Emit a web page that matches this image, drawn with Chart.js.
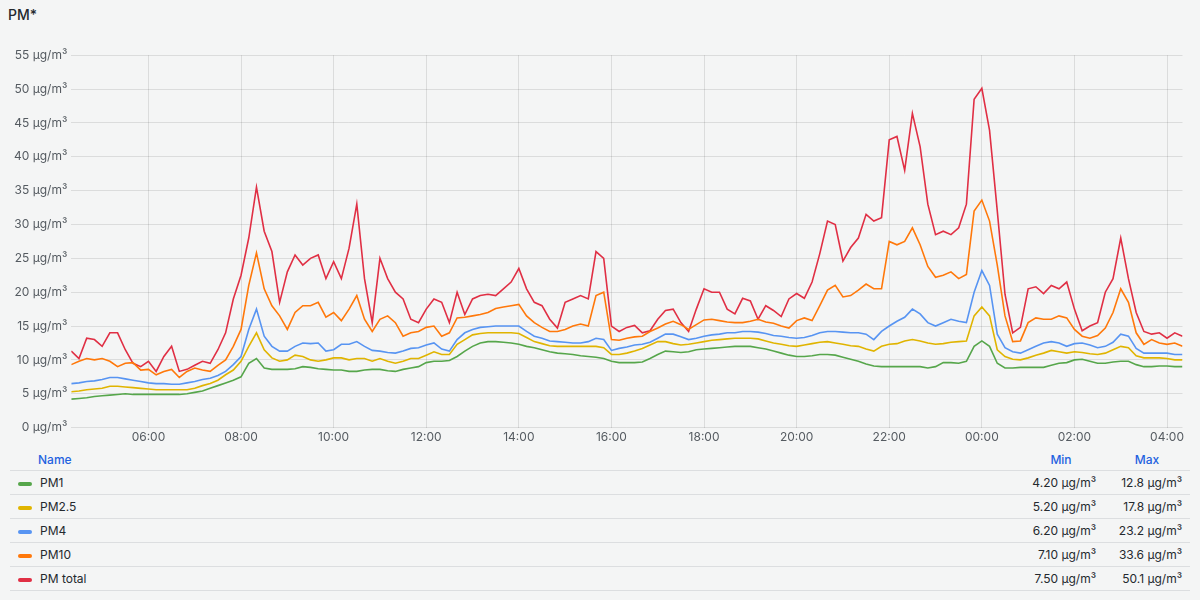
<!DOCTYPE html>
<html>
<head>
<meta charset="utf-8">
<script src="https://cdn.jsdelivr.net/npm/chart.js@4"></script>
<style>
  body { margin: 0; width: 1200px; height: 600px; background: #f4f5f5; font-family: Inter, "Noto Sans", sans-serif; color: #24292e; overflow: hidden; }
  #title { position: absolute; left: 8px; top: 6px; font-size: 14px; font-weight: 500; }
  #wrap { position: absolute; left: 10px; top: 44px; width: 1177px; height: 404px; }
  #legend { position: absolute; left: 10px; top: 448px; width: 1180px; font-size: 12px; border-collapse: collapse; }
  #legend th { color: #1f62e0; font-weight: 500; height: 22px; text-align: center; padding: 0 8px; }
  #legend th:first-child { text-align: left; padding-left: 28px; }
  #legend td { height: 23px; border-top: 1px solid #dcdee0; text-align: right; padding: 0 8px; }
  #legend td:first-child { text-align: left; }
  #legend tr:last-child td { border-bottom: 1px solid #dcdee0; }
  .sw { display: inline-block; width: 14px; height: 4px; border-radius: 2px; vertical-align: middle; margin: 0 8px 0 0; }
</style>
</head>
<body>
<div id="title">PM*</div>
<div id="wrap"><canvas id="c"></canvas></div>
<table id="legend"><thead><tr><th>Name</th><th style="width:70px">Min</th><th style="width:70px">Max</th></tr></thead><tbody id="rows"></tbody></table>
<script>
// start 04:20, one point every 10 minutes (minutes since midnight of first day)
const startMinute = 260;
const stepMinutes = 10;
const seriesNames = ["PM1", "PM2.5", "PM4", "PM10", "PM total"];
const seriesColors = ["#56a64b", "#e0b400", "#5794f2", "#ff780a", "#e02f44"];
const minLabels = ["4.20 µg/m³", "5.20 µg/m³", "6.20 µg/m³", "7.10 µg/m³", "7.50 µg/m³"];
const maxLabels = ["12.8 µg/m³", "17.8 µg/m³", "23.2 µg/m³", "33.6 µg/m³", "50.1 µg/m³"];
const xTicks = [360, 480, 600, 720, 840, 960, 1080, 1200, 1320, 1440, 1560, 1680];

const pm1 = [4.2,4.3,4.4,4.6,4.7,4.8,4.9,5,4.9,4.9,4.9,4.9,4.9,4.9,4.9,5,5.2,5.4,5.8,6.2,6.6,7,7.5,9.5,10.2,8.8,8.6,8.6,8.6,8.7,9,8.9,8.7,8.6,8.5,8.5,8.3,8.3,8.5,8.6,8.6,8.4,8.3,8.6,8.8,9,9.6,9.8,9.8,9.9,10.5,11.3,12,12.5,12.7,12.7,12.6,12.5,12.3,12,11.8,11.5,11.2,11,10.9,10.8,10.6,10.5,10.4,10.2,9.8,9.6,9.6,9.6,9.7,10.2,10.8,11.3,11.2,11.1,11.2,11.5,11.6,11.7,11.8,11.9,12,12,12,11.8,11.6,11.3,11,10.7,10.5,10.5,10.6,10.8,10.8,10.7,10.4,10.1,9.8,9.4,9.1,9,9,9,9,9,9,8.8,9,9.6,9.6,9.5,9.8,12,12.8,12,9.5,8.8,8.8,8.9,8.9,8.9,8.9,9.2,9.5,9.6,10,10.1,9.8,9.5,9.5,9.7,9.8,9.8,9.3,9,9,9.1,9.1,9,9];
const pm25 = [5.3,5.4,5.6,5.7,5.8,6.1,6.1,6,5.9,5.8,5.7,5.6,5.6,5.6,5.6,5.6,5.8,6.2,6.5,7,7.8,8.5,9.8,12,14,11.5,10.3,9.8,10,10.7,10.5,10,9.8,10,10.3,10.3,10,10.2,10.2,9.8,10.2,9.8,9.5,9.8,10.2,10.2,10.7,11.2,10.8,10.8,12.3,13,13.7,13.9,14,14,14,14,13.9,13.3,12.7,12.4,12.1,12,12,12,12,12,12,11.8,10.8,10.8,11,11.3,11.7,12.2,12.7,12.7,12.4,12.2,12.3,12.5,12.7,12.9,13,13.1,13.2,13.2,13.2,13.1,12.8,12.5,12.3,12.1,12,12.2,12.4,12.6,12.7,12.5,12.3,12.1,12,11.6,11.3,12,12.3,12.4,12.8,13,12.8,12.5,12.3,12.4,12.6,12.7,12.8,16.5,17.8,16.5,11.5,10.5,10.1,10,10.3,10.7,11,11.4,11.2,11,11.2,11.1,10.9,10.8,11,11.5,12,11.8,10.6,10.3,10.3,10.3,10.2,10,10];
const pm4 = [6.5,6.6,6.8,6.9,7.1,7.4,7.4,7.2,7,6.8,6.6,6.5,6.5,6.4,6.4,6.6,6.8,7.1,7.3,7.7,8.3,9.3,10.5,14.5,17.5,13.5,12,11.3,11.3,12,12.5,12.4,12.5,11.3,11.5,12.3,12.3,12.7,12,11.4,11.3,11.1,11,11.3,11.7,11.8,12.2,12.5,11.6,11.3,13,14,14.5,14.8,14.9,15,15,15,15,14.2,13.5,13.2,12.8,12.7,12.6,12.5,12.5,12.7,13.2,13,11.4,11.7,11.9,12.2,12.3,12.6,13.2,13.8,13.8,13.4,13,13.2,13.5,13.7,13.8,14,14,14.2,14.2,14.1,13.9,13.6,13.5,13.3,13.2,13.3,13.6,14,14.2,14.2,14.1,14,14,13.8,13,14.2,15,15.7,16.3,17.5,16.8,15.5,15,15.5,16,15.7,15.5,20,23.2,21,13.8,11.8,11.2,11,11.5,12,12.5,12.7,12.5,12,12.4,12.5,12.2,11.8,12,12.6,13.8,13.5,11.7,11,11,11,11,10.8,10.8];
const pm10 = [9.3,9.8,10.2,10,10.2,9.8,9,9.5,9.6,8.5,8.6,7.8,8.3,8.6,7.4,8.3,8.8,8.5,8.3,9.2,10,12,14.5,21,25.8,20.5,18,16.5,14.5,17,18,18,18.5,16.3,17,15.8,17.5,19.5,16,14.2,16,16.5,15.5,13.5,14,14.2,14.8,15,13.5,14,16.2,16.3,16.5,16.7,17,17.6,17.8,18,18.2,16.5,15.5,14.8,14.2,14.2,14.5,15,15.3,15,19.5,20,13,12.9,13.2,13.4,13.5,14.2,14.7,15.3,15.7,15.2,14.5,15.2,15.9,16,15.8,15.6,15.5,15.5,15.7,16,15.6,15.4,15,14.7,15.8,16.2,15.8,18,20.3,21,19.3,19.5,20.3,21.2,20.5,20.5,27.5,27,27.5,29.5,27,23.8,22.2,22.5,23,22,22.6,32,33.6,30.5,24,16.5,12.7,12.8,15.5,16.2,16,16,16.5,16.2,14.5,13.5,13.2,13.6,14.7,17,20.5,18.5,14,12.3,13,12.5,12.3,12.5,12];
const pmTotal = [11.3,10.2,13.2,13,12,14,14,11.5,9.5,9,9.8,8.3,10.5,12,8.3,8.6,9.2,9.8,9.5,11.5,14,19,22.5,28,35.5,29,26,18.5,23,25.5,24,25,25.5,22,24.5,22,26.5,33,22,15.5,25,22,20,19,16,15.5,17.5,19,18.5,15.5,20,16.7,19,19.5,19.7,19.5,20.5,21.5,23.5,20.5,18.5,18,16,14.7,18.5,19,19.5,19,26,25,15,14.2,14.8,15.1,14,14.3,16,17.3,17.5,15.5,14.2,17.5,20.5,20,20,17.5,16.8,19.1,18.7,16,18,17.3,16.4,19,19.8,19.1,21.5,25.7,30.5,30,24.6,26.6,28,31.5,30.5,31,42.5,43,38,46.4,41.5,33,28.5,29,28.5,29.5,33,48.5,50.1,43.9,32,19.7,14,14.8,20.5,20.8,19.8,21,20.5,21.5,17.5,14.3,15,15.5,20,22,28,22,17,14.2,13.8,14,13.2,14,13.5];

const seriesValues = [pm1, pm25, pm4, pm10, pmTotal];
const times = pm1.map((_, i) => startMinute + i * stepMinutes);

function hhmm(m) {
    const h = Math.floor(m / 60) % 24;
    return String(h).padStart(2, "0") + ":" + String(m % 60).padStart(2, "0");
}

new Chart(document.getElementById("c"), {
    type: "line",
    data: {
        datasets: seriesValues.map((vals, k) => ({
            label: seriesNames[k],
            data: vals.map((v, i) => ({ x: times[i], y: v })),
            borderColor: seriesColors[k],
            borderWidth: 1.6,
            pointRadius: 0,
            tension: 0,
            fill: false
        }))
    },
    options: {
        animation: false,
        responsive: true,
        maintainAspectRatio: false,
        plugins: { legend: { display: false }, tooltip: { enabled: false } },
        scales: {
            x: {
                type: "linear",
                min: startMinute,
                max: startMinute + 1440,
                afterBuildTicks: axis => { axis.ticks = xTicks.map(v => ({ value: v })); },
                ticks: { callback: v => hhmm(v), color: "#555b61", font: { family: "Inter", size: 12 }, maxRotation: 0 },
                grid: { color: "rgba(0,0,0,0.1)", drawTicks: false },
                border: { display: false }
            },
            y: {
                min: 0,
                max: 55,
                ticks: { stepSize: 5, callback: v => v + " µg/m³", color: "#555b61", font: { family: "Inter", size: 12 }, padding: 4 },
                grid: { color: "rgba(0,0,0,0.1)", drawTicks: false },
                border: { display: false }
            }
        }
    }
});

const rows = document.getElementById("rows");
seriesNames.forEach((name, k) => {
    const tr = document.createElement("tr");
    tr.innerHTML = `
        <td><span class="sw" style="background:${seriesColors[k]}"></span>${name}</td>
        <td>${minLabels[k]}</td>
        <td>${maxLabels[k]}</td>`;
    rows.appendChild(tr);
});
</script>
</body>
</html>
